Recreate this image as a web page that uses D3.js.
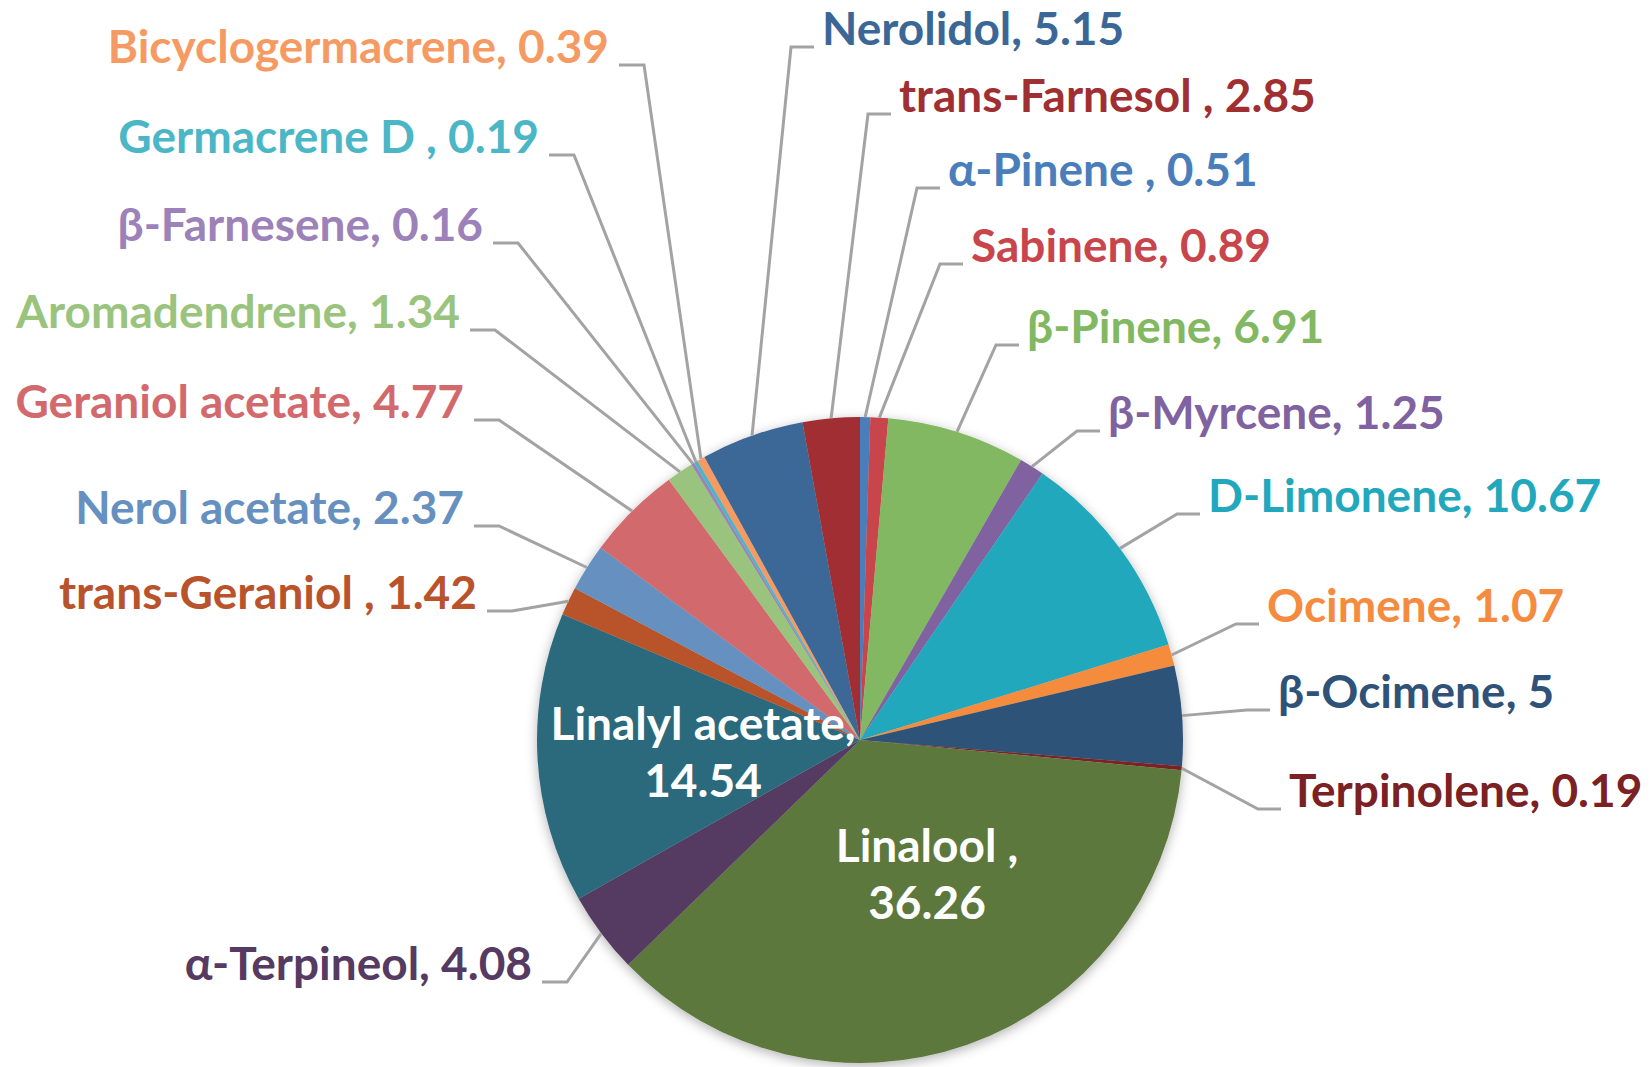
<!DOCTYPE html>
<html>
<head>
<meta charset="utf-8">
<script src="https://cdn.jsdelivr.net/npm/d3@7"></script>
<style>
  body { margin: 0; background: #fff; }
  svg text { font-family: Lato, "Open Sans", sans-serif; font-weight: 700; }
</style>
</head>
<body>
<svg id="chart" width="1652" height="1067"></svg>
<script>
// data, clockwise from 12 o'clock
var names = ["α-Pinene", "Sabinene", "β-Pinene", "β-Myrcene", "D-Limonene", "Ocimene",
	"β-Ocimene", "Terpinolene", "Linalool", "α-Terpineol", "Linalyl acetate", "trans-Geraniol",
	"Nerol acetate", "Geraniol acetate", "Aromadendrene", "β-Farnesene", "Germacrene D",
	"Bicyclogermacrene", "Nerolidol", "trans-Farnesol"];
var values = [0.51, 0.89, 6.91, 1.25, 10.67, 1.07, 5, 0.19, 36.26, 4.08, 14.54, 1.42,
	2.37, 4.77, 1.34, 0.16, 0.19, 0.39, 5.15, 2.85];
var labels = ["α-Pinene , 0.51", "Sabinene, 0.89", "β-Pinene, 6.91", "β-Myrcene, 1.25",
	"D-Limonene, 10.67", "Ocimene, 1.07", "β-Ocimene, 5", "Terpinolene, 0.19",
	"Linalool ,|36.26", "α-Terpineol, 4.08", "Linalyl acetate,|14.54", "trans-Geraniol , 1.42",
	"Nerol acetate, 2.37", "Geraniol acetate, 4.77", "Aromadendrene, 1.34", "β-Farnesene, 0.16",
	"Germacrene D , 0.19", "Bicyclogermacrene, 0.39", "Nerolidol, 5.15", "trans-Farnesol , 2.85"];
var colors = ["#4a7ebb", "#c8454c", "#82b862", "#8062a0", "#22a8bc", "#f48b3e",
	"#2f5278", "#7b2023", "#5c783d", "#553a62", "#2a6b7b", "#b9532c",
	"#6590c0", "#d2696d", "#9ac47d", "#9c82b8", "#4bb6c6", "#f69a63", "#3b6797", "#a02f31"];

// label layout: [x, baseline, side]; x = text end on the left side, text start on the right side
var labelAt = [[948, 186, "R"], [971, 262, "R"], [1027, 343, "R"], [1108, 429, "R"],
	[1208, 512, "R"], [1267, 622, "R"], [1278, 708, "R"], [1289, 807, "R"],
	[927, 862, "C"], [532, 980, "L"], [703, 740, "C"], [477, 609, "L"],
	[464, 524, "L"], [464, 418, "L"], [460, 328, "L"], [483, 241, "L"],
	[539, 153, "L"], [609, 63, "L"], [822, 45, "R"], [899, 112, "R"]];

var cx = 860, cy = 740, radius = 323, fontSize = 46;

var svg = d3.select("#chart");

var defs = svg.append("defs");
var shadow = defs.append("filter").attr("id", "shadow")
	.attr("x", "-10%").attr("y", "-10%").attr("width", "120%").attr("height", "120%");
shadow.append("feDropShadow")
	.attr("dx", 0).attr("dy", 3)
	.attr("stdDeviation", 6)
	.attr("flood-color", "#000")
	.attr("flood-opacity", 0.3);

var g = svg.append("g").attr("transform", "translate(" + cx + "," + cy + ")");

var pie = d3.pie().sort(null).value(function(d){ return d; });
var arcs = pie(values);
var arc = d3.arc().innerRadius(0).outerRadius(radius);

g.append("g").attr("filter", "url(#shadow)")
	.selectAll("path")
	.data(arcs)
	.enter()
	.append("path")
	.attr("d", arc)
	.attr("fill", function(d, i){ return colors[i]; });

// leader lines and labels
arcs.forEach(function(d, i){
	var pos = labelAt[i],
		tx = pos[0] - cx,
		ty = pos[1] - cy;

	if(pos[2] == "C"){
		var t = g.append("text")
			.attr("x", tx)
			.attr("y", ty)
			.attr("text-anchor", "middle")
			.attr("fill", "#fff")
			.style("font-size", fontSize + "px");
		labels[i].split("|").forEach(function(s, k){
			t.append("tspan").attr("x", tx).attr("dy", k == 0 ? 0 : 57).text(s);
		});
		return;
	}

	var mid = (d.startAngle + d.endAngle)/2,
		ex = Math.sin(mid)*radius,
		ey = -Math.cos(mid)*radius,
		left = pos[2] == "L",
		ly = ty + 2,
		x1 = left ? tx + 10 : tx - 8,
		x2 = left ? tx + 35 : tx - 31;

	g.append("polyline")
		.attr("points", [[x1, ly], [x2, ly], [ex, ey]].map(function(p){ return p.join(","); }).join(" "))
		.attr("fill", "none")
		.attr("stroke", "#a3a3a3")
		.attr("stroke-width", 3);

	g.append("text")
		.attr("x", tx)
		.attr("y", ty)
		.attr("text-anchor", left ? "end" : "start")
		.attr("fill", colors[i])
		.style("font-size", fontSize + "px")
		.text(labels[i]);
});
</script>
</body>
</html>
